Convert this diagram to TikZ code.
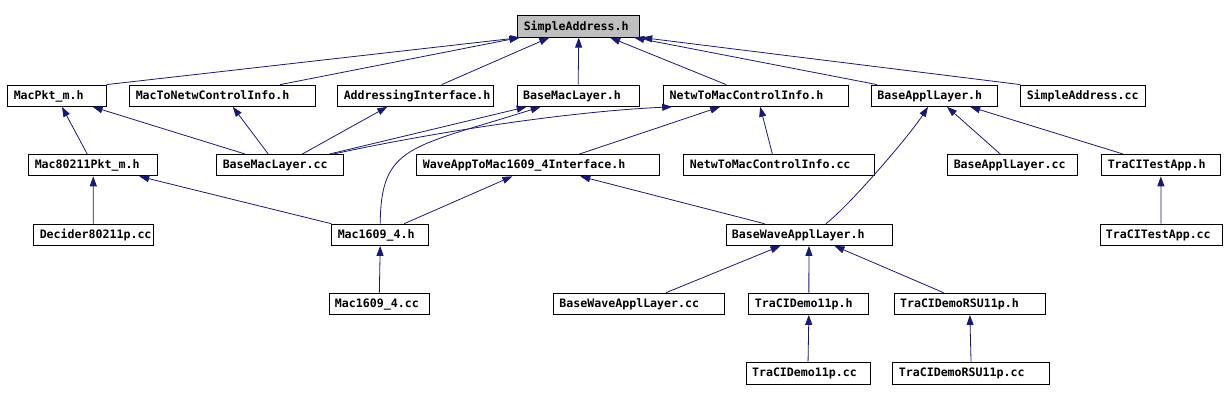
\documentclass[tikz,border=0pt]{standalone}
\usepackage{fontspec}
\usetikzlibrary{arrows.meta}
\newfontfamily\filefont{DejaVu Sans Mono}
\definecolor{edgeblue}{RGB}{25,25,112}
\tikzset{
  % one box per file, placed by its left edge
  file/.style    ={draw, line width=0.9pt, fill=white, anchor=west,
                   text width=#1, align=left, inner xsep=6pt, inner ysep=0pt,
                   text height=14.3pt, text depth=7pt,
                   font=\filefont\bfseries\fontsize{11.6}{12}\selectfont},
  rootfile/.style={file=#1, fill=black!25},
  dep/.style     ={-{Triangle[length=10pt, width=7pt]}, line width=0.8pt,
                   edgeblue},
}
\begin{document}
\begin{tikzpicture}[x=1pt, y=-1pt]
  \useasboundingbox (0,0) rectangle (1227,401);
  \node[rootfile=110] (sah)   at (517.3,26.5)  {SimpleAddress.h};
  \node[file=86.4]  (mpkt)   at (7.3,95.7)    {MacPkt\_m.h};
  \node[file=174]   (m2n)    at (129.3,95.7)  {MacToNetwControlInfo.h};
  \node[file=144]   (addr)   at (337.3,95.7)  {AddressingInterface.h};
  \node[file=110]   (bmlh)   at (516.7,95.7)  {BaseMacLayer.h};
  \node[file=173]   (n2mh)   at (663.2,95.7)  {NetwToMacControlInfo.h};
  \node[file=114.3] (balh)   at (871,95.7)    {BaseApplLayer.h};
  \node[file=113]   (sacc)   at (1020.3,95.7) {SimpleAddress.cc};
  \node[file=117]   (m80h)   at (28.3,165.2)  {Mac80211Pkt\_m.h};
  \node[file=115]   (bmlcc)  at (216.3,165.2) {BaseMacLayer.cc};
  \node[file=231]   (wah)    at (416.4,165.2) {WaveAppToMac1609\_4Interface.h};
  \node[file=178.2] (n2mcc)  at (683.4,165.2) {NetwToMacControlInfo.cc};
  \node[file=118]   (balcc)  at (947.3,165.2) {BaseApplLayer.cc};
  \node[file=106.2] (ttah)   at (1101.3,165.2) {TraCITestApp.h};
  \node[file=107.2] (dcc)    at (33.3,234.8)  {Decider80211p.cc};
  \node[file=84.9]  (m16h)   at (331.3,234.8) {Mac1609\_4.h};
  \node[file=154]   (bwah)   at (725.5,234.8) {BaseWaveApplLayer.h};
  \node[file=110.2] (ttacc)  at (1099.5,234.8) {TraCITestApp.cc};
  \node[file=88.8]  (m16cc)  at (328.5,303.8) {Mac1609\_4.cc};
  \node[file=159.4] (bwacc)  at (553,303.8)   {BaseWaveApplLayer.cc};
  \node[file=108]   (tdh)    at (748.4,303.8) {TraCIDemo11p.h};
  \node[file=139.6] (trsuh)  at (893.6,303.8) {TraCIDemoRSU11p.h};
  \node[file=112]   (tdcc)   at (745.6,373.3) {TraCIDemo11p.cc};
  \node[file=144.4] (trsucc) at (892.4,373.3) {TraCIDemoRSU11p.cc};
  % includes of SimpleAddress.h
  \draw[dep] (mpkt.north east) -- ([xshift=3pt]sah.south west);
  \draw[dep] ([xshift=-36pt]m2n.north east) -- ([xshift=2pt]sah.south west);
  \draw[dep] ([xshift=26pt]addr.north) -- ([xshift=32pt]sah.south west);
  \draw[dep] (bmlh.north) -- (sah.south);
  \draw[dep] ([xshift=-30pt]n2mh.north) -- ([xshift=-30pt]sah.south east);
  \draw[dep] ([xshift=6pt]balh.north west) -- ([xshift=-6pt]sah.south east);
  \draw[dep] (sacc.north west) -- ([xshift=2pt]sah.south east);
  % second row
  \draw[dep] ([xshift=-6pt]m80h.north) -- ([xshift=5pt]mpkt.south);
  \draw[dep] ([xshift=29pt]bmlcc.north west) -- ([xshift=-14pt]mpkt.south east);
  \draw[dep] ([xshift=52pt]bmlcc.north west) -- ([xshift=10pt]m2n.south);
  \draw[dep] ([xshift=-42pt]bmlcc.north east) -- ([xshift=50pt]addr.south west);
  \draw[dep] ([xshift=-15pt]bmlcc.north east) -- ([xshift=10pt]bmlh.south west);
  \draw[dep] ([xshift=-11pt]bmlcc.north east) .. controls (420,135) and (560,112)
    .. ([xshift=9pt]n2mh.south west);
  \draw[dep] (m16h.north) .. controls (381,145) and (410,148)
    .. ([xshift=24pt]bmlh.south west);
  \draw[dep] ([xshift=-81pt]wah.north east) -- ([xshift=57pt]n2mh.south west);
  \draw[dep] ([xshift=89pt]n2mcc.north west) -- ([xshift=97pt]n2mh.south west);
  \draw[dep] ([xshift=17pt]bwah.north) .. controls (850,205) and (910,135)
    .. ([xshift=57pt]balh.south west);
  \draw[dep] ([xshift=53pt]balcc.north west) -- ([xshift=76pt]balh.south west);
  \draw[dep] ([xshift=22pt]ttah.north west) -- ([xshift=-28pt]balh.south east);
  % lower rows
  \draw[dep] (ttacc.north) -- (ttah.south);
  \draw[dep] (dcc.north) -- (m80h.south);
  \draw[dep] (m16h.north west) -- ([xshift=-19pt]m80h.south east);
  \draw[dep] ([xshift=-25pt]m16h.north east) -- ([xshift=96pt]wah.south west);
  \draw[dep] ([xshift=39pt]bwah.north west) -- ([xshift=-80pt]wah.south east);
  \draw[dep] (m16cc.north) -- (m16h.south);
  \draw[dep] ([xshift=113pt]bwacc.north west) -- ([xshift=55pt]bwah.south west);
  \draw[dep] (tdh.north) -- (bwah.south);
  \draw[dep] ([xshift=50pt]trsuh.north west) -- ([xshift=109pt]bwah.south west);
  \draw[dep] (tdcc.north) -- (tdh.south);
  \draw[dep] (trsucc.north) -- (trsuh.south);
\end{tikzpicture}
\end{document}
